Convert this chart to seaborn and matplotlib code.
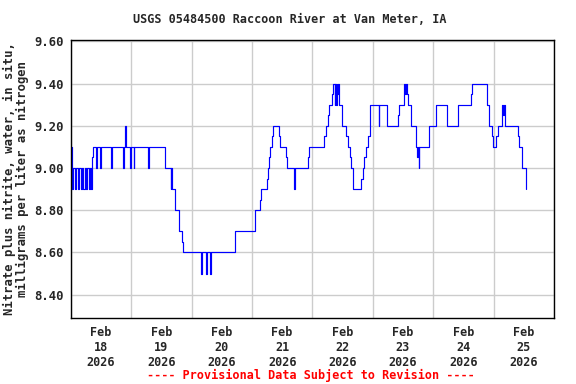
import pandas as pd
import seaborn as sns
import matplotlib.pyplot as plt
import matplotlib.dates as mdates
from matplotlib.ticker import FormatStrFormatter

# change points: hours since 2026-02-18 00:00 and nitrate value (mg/L)
hours = [
    0.0, 0.4, 1.0, 1.6, 2.2, 2.8, 3.4, 4.0, 4.4, 5.0, 5.5, 6.1, 6.6, 7.1, 7.6, 8.0,
    8.3, 8.6, 9.0, 10.2, 10.6, 11.5, 12.0, 15.9, 16.4, 20.8, 21.2, 21.6, 21.8, 22.1,
    23.4, 24.0, 25.0, 25.3, 30.9, 31.2, 37.6, 39.7, 39.9, 40.1, 41.5, 42.9, 43.1, 44.2,
    44.5, 51.8, 52.2, 53.8, 54.2, 55.4, 55.8, 65.3, 73.2, 75.2, 75.8, 77.9, 78.4, 78.7,
    79.1, 79.8, 80.4, 82.8, 83.3, 85.7, 86.0, 88.9, 89.3, 94.2, 94.7, 100.5, 101.5,
    102.1, 102.8, 103.8, 104.4, 104.9, 105.1, 105.3, 105.6, 105.9, 106.2, 106.6, 107.8,
    109.4, 110.1, 110.8, 111.3, 112.0, 112.2, 115.5, 116.0, 116.7, 117.5, 118.0, 118.8,
    122.3, 122.6, 125.7, 130.0, 130.6, 132.5, 133.0, 133.2, 133.6, 134.2, 135.2, 137.2,
    137.6, 137.8, 138.2, 138.4, 142.4, 145.2, 149.3, 153.9, 159.2, 159.5, 165.4, 166.3,
    167.4, 167.8, 169.1, 169.6, 171.5, 171.8, 172.0, 172.4, 177.7, 178.2, 179.1, 180.9,
]
values = [
    9.1, 8.9, 9.0, 8.9, 9.0, 8.9, 9.0, 8.9, 9.0, 8.9, 9.0, 8.9, 9.0, 8.9, 9.0, 8.9,
    9.0, 9.05, 9.1, 9.0, 9.1, 9.0, 9.1, 9.0, 9.1, 9.0, 9.1, 9.2, 9.15, 9.1,
    9.0, 9.1, 9.0, 9.1, 9.0, 9.1, 9.0, 8.9, 9.0, 8.9, 8.8, 8.75, 8.7, 8.65,
    8.6, 8.5, 8.6, 8.5, 8.6, 8.5, 8.6, 8.7, 8.8, 8.85, 8.9, 8.95, 9.0, 9.05,
    9.1, 9.15, 9.2, 9.15, 9.1, 9.05, 9.0, 8.9, 9.0, 9.05, 9.1, 9.15, 9.2,
    9.25, 9.3, 9.35, 9.4, 9.3, 9.4, 9.3, 9.4, 9.35, 9.4, 9.3, 9.2,
    9.15, 9.1, 9.05, 9.0, 8.95, 8.9, 8.95, 9.0, 9.05, 9.1, 9.15, 9.3,
    9.2, 9.3, 9.2, 9.25, 9.3, 9.4, 9.35, 9.4, 9.35, 9.3, 9.2, 9.1,
    9.05, 9.1, 9.0, 9.1, 9.2, 9.3, 9.2, 9.3, 9.35, 9.4, 9.3, 9.2,
    9.15, 9.1, 9.15, 9.2, 9.3, 9.25, 9.3, 9.2, 9.15, 9.1, 9.0, 8.9,
]

title = "USGS 05484500 Raccoon River at Van Meter, IA"
ylabel = "Nitrate plus nitrite, water, in situ,\nmilligrams per liter as nitrogen"
footer = "---- Provisional Data Subject to Revision ----"

start = pd.Timestamp("2026-02-18")
df = pd.DataFrame({
    "time": start + pd.to_timedelta(hours, unit="h"),
    "value": values,
})

sns.set_style("white")
plt.rcParams["font.family"] = ["DejaVu Sans Mono"]
plt.rcParams["font.weight"] = "bold"

fig = plt.figure(figsize=(5.76, 3.84), dpi=100)
ax = fig.add_axes([0.1227, 0.1727, 0.8391, 0.7244])

sns.lineplot(data=df, x="time", y="value", ax=ax, color="#0000FF",
             linewidth=0.85, drawstyle="steps-post", estimator=None)

ax.set_xlim(start, start + pd.Timedelta(days=8))
ax.set_ylim(8.291, 9.609)

# labels at noon, grid at midnight
ax.xaxis.set_major_locator(mdates.HourLocator(byhour=[12]))
ax.xaxis.set_major_formatter(mdates.DateFormatter("%b\n%d\n%Y"))
ax.xaxis.set_minor_locator(mdates.DayLocator())
ax.yaxis.set_major_locator(plt.MultipleLocator(0.2))
ax.yaxis.set_major_formatter(FormatStrFormatter("%.2f"))

ax.grid(False)
ax.grid(True, which="minor", axis="x", color="#CCCCCC", linewidth=1.0)
ax.grid(True, which="major", axis="y", color="#CCCCCC", linewidth=1.0)

ax.tick_params(axis="x", which="both", length=0, pad=6, labelsize=8.5)
ax.tick_params(axis="y", length=0, labelsize=8.8, pad=5)
for lab in ax.get_xticklabels() + ax.get_yticklabels():
    lab.set_fontweight("bold")

for s in ax.spines.values():
    s.set_color("black")
    s.set_linewidth(1.0)

ax.set_xlabel("")
ax.set_ylabel(ylabel, fontsize=8.8, fontweight="bold", labelpad=4, linespacing=0.95)

fig.text(0.503, 0.948, title, ha="center", va="center", fontsize=8.5, fontweight="bold")
fig.text(0.54, 0.022, footer, ha="center", va="center", fontsize=8.5,
         fontweight="bold", color="#FF0000")

fig.savefig("out.png", dpi=100)
